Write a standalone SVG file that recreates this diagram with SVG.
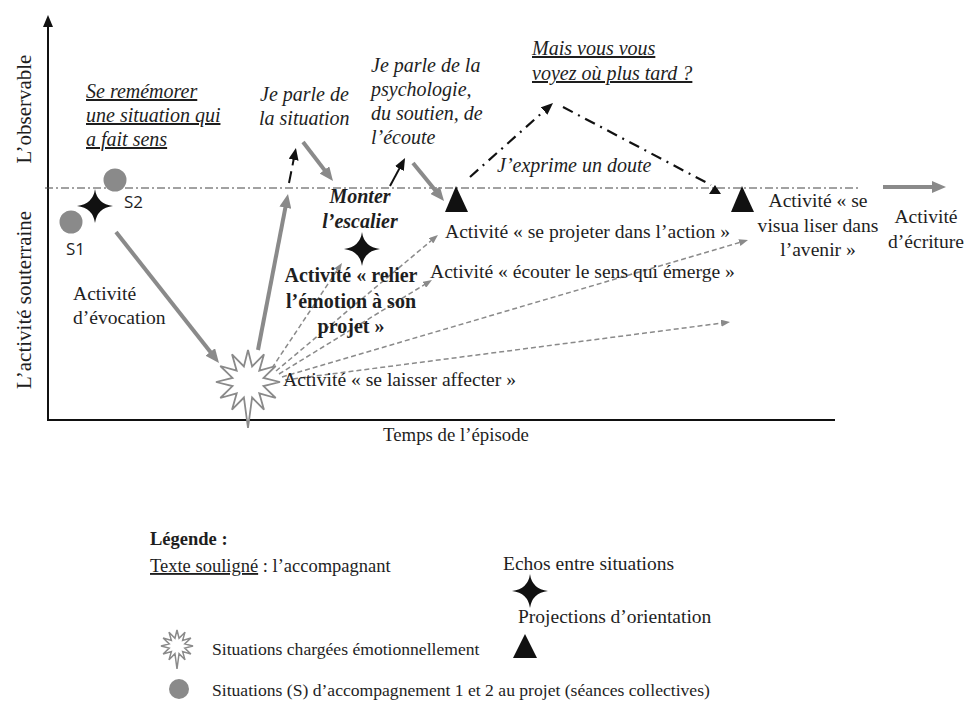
<svg xmlns="http://www.w3.org/2000/svg" width="965" height="705" viewBox="0 0 965 705">
<style>
text{font-family:"Liberation Serif","Times New Roman",serif;fill:#1e1e1e;font-size:19.6px}
.it{font-style:italic;font-size:20px}
.u{text-decoration:underline}
.b{font-weight:bold;font-size:20px}
.sans{font-family:"Open Sans","Liberation Sans",sans-serif;font-size:17px}
.ax{font-size:21px}
.lg{font-size:18.5px}
.lg2{font-size:19.5px}
.lg3{font-size:17.6px}
.g{stroke:#8a8a8a;stroke-width:4;fill:none}
.d{stroke:#8a8a8a;stroke-width:1.5;stroke-dasharray:5 3;fill:none}
.k{stroke:#111;stroke-width:2;fill:none}
.kdd{stroke:#111;stroke-width:2.2;stroke-dasharray:11 6 2 6;fill:none}
</style>
<defs>
<marker id="ga" markerUnits="userSpaceOnUse" markerWidth="14" markerHeight="12" refX="4" refY="6" orient="auto"><path d="M0,0 L14,6 L0,12 z" fill="#8a8a8a"/></marker>
<marker id="da" markerUnits="userSpaceOnUse" markerWidth="9" markerHeight="7" refX="2" refY="3.5" orient="auto"><path d="M0,0 L9,3.5 L0,7 z" fill="#8a8a8a"/></marker>
<marker id="ka" markerUnits="userSpaceOnUse" markerWidth="12" markerHeight="10" refX="3" refY="5" orient="auto"><path d="M0,0 L12,5 L0,10 z" fill="#111"/></marker>
<path id="burst" d="M0,-32 L4.1,-15.5 L16,-27.7 L11.3,-11.3 L27.7,-16 L15.5,-4.1 L32,0 L15.5,4.1 L27.7,16 L11.3,11.3 L16,27.7 L4.1,15.5 L0,46 L-4.1,15.5 L-16,27.7 L-11.3,11.3 L-27.7,16 L-15.5,4.1 L-32,0 L-15.5,-4.1 L-27.7,-16 L-11.3,-11.3 L-16,-27.7 L-4.1,-15.5 Z"/>
<path id="star" d="M0,-17 Q2,-2 18,0 Q2,2 0,17 Q-2,2 -18,0 Q-2,-2 0,-17 Z"/>
</defs>
<rect width="965" height="705" fill="#fff"/>

<g id="axes">
<line x1="48" y1="420" x2="48" y2="24" class="k" marker-end="url(#ka)"/>
<line x1="47" y1="420" x2="835" y2="420" class="k"/>
<line x1="45" y1="188" x2="860" y2="188" stroke="#444" stroke-width="1" stroke-dasharray="8 3 2 3"/>
<text class="ax" transform="translate(31,109) rotate(-90)" text-anchor="middle">L’observable</text>
<text class="ax" transform="translate(31,300) rotate(-90)" text-anchor="middle">L’activité souterraine</text>
<text x="456" y="441" text-anchor="middle" style="font-size:18.8px">Temps de l’épisode</text>
</g>

<g id="connectors">
<line x1="116" y1="232" x2="212.8" y2="355.1" class="g" marker-end="url(#ga)"/>
<line x1="258" y1="350" x2="286.1" y2="203.8" class="g" marker-end="url(#ga)"/>
<line x1="303" y1="142" x2="326.9" y2="173.1" class="g" marker-end="url(#ga)"/>
<line x1="413" y1="163" x2="437.7" y2="193.2" class="g" marker-end="url(#ga)"/>
<line x1="883" y1="187" x2="936" y2="187" class="g" marker-end="url(#ga)"/>
<line x1="272" y1="368" x2="338.1" y2="268.8" class="d" marker-end="url(#da)"/>
<line x1="276" y1="371" x2="432.6" y2="239.5" class="d" marker-end="url(#da)"/>
<line x1="279" y1="374" x2="426" y2="283.7" class="d" marker-end="url(#da)"/>
<line x1="282" y1="377" x2="741.3" y2="242" class="d" marker-end="url(#da)"/>
<line x1="285" y1="380" x2="723.1" y2="322.9" class="d" marker-end="url(#da)"/>
<line x1="289" y1="183" x2="294.2" y2="156.8" stroke="#111" stroke-width="2" stroke-dasharray="12 6" marker-end="url(#ka)"/>
<line x1="390" y1="186" x2="400.8" y2="165.9" class="k" marker-end="url(#ka)"/>
<line x1="470" y1="177" x2="546.3" y2="109" class="kdd" marker-end="url(#ka)"/>
<line x1="563" y1="107" x2="711" y2="185" class="kdd"/>
</g>

<g id="s1"><circle cx="71" cy="222" r="11.5" fill="#8a8a8a"/><text class="sans" x="66" y="255">S1</text></g>
<g id="s2"><circle cx="115" cy="180" r="11.5" fill="#8a8a8a"/><text class="sans" x="124" y="208">S2</text></g>
<g id="echo1"><use href="#star" transform="translate(95,206)" fill="#111"/></g>
<g id="echo2"><use href="#star" transform="translate(362,249)" fill="#111"/></g>
<g id="burst-main"><use href="#burst" transform="translate(248,382)" fill="#fff" stroke="#8a8a8a" stroke-width="1.8"/></g>
<g id="proj1"><polygon points="456,186 445,212 468,212" fill="#111"/></g>
<g id="proj2"><polygon points="742,186 731,212 754,212" fill="#111"/></g>
<g id="proj-small"><polygon points="715,185 709,194 721,194" fill="#111"/></g>

<g id="labels">
<text class="it u" x="86" y="98">Se remémorer</text>
<text class="it u" x="86" y="122">une situation qui</text>
<text class="it u" x="86" y="146">a fait sens</text>
<text x="73" y="300">Activité</text>
<text x="73" y="324">d’évocation</text>
<text class="it" x="260" y="101">Je parle de</text>
<text class="it" x="259" y="125">la situation</text>
<text class="it" x="371" y="72">Je parle de la</text>
<text class="it" x="371" y="96">psychologie,</text>
<text class="it" x="371" y="120">du soutien, de</text>
<text class="it" x="371" y="144">l’écoute</text>
<text class="it u" x="532" y="55">Mais vous vous</text>
<text class="it u" x="532" y="80">voyez où plus tard ?</text>
<text class="it" x="497" y="172">J’exprime un doute</text>
<text class="it b" x="360" y="203" text-anchor="middle">Monter</text>
<text class="it b" x="360" y="228" text-anchor="middle">l’escalier</text>
<text class="b" x="351" y="282" text-anchor="middle">Activité « relier</text>
<text class="b" x="351" y="308" text-anchor="middle">l’émotion à son</text>
<text class="b" x="351" y="333" text-anchor="middle">projet »</text>
<text x="445" y="238">Activité « se projeter dans l’action »</text>
<text x="430" y="278">Activité « écouter le sens qui émerge »</text>
<text x="283" y="386">Activité « se laisser affecter »</text>
<text x="818" y="207" text-anchor="middle">Activité « se</text>
<text x="818" y="232" text-anchor="middle">visua liser dans</text>
<text x="818" y="256" text-anchor="middle">l’avenir »</text>
<text x="926" y="223" text-anchor="middle">Activité</text>
<text x="926" y="248" text-anchor="middle">d’écriture</text>
</g>

<g id="legend">
<text class="lg b" x="150" y="545">Légende :</text>
<text class="lg" x="150" y="572"><tspan class="u">Texte souligné</tspan> : l’accompagnant</text>
<text class="lg2" x="503" y="570">Echos entre situations</text>
<use href="#star" transform="translate(530,591)" fill="#111"/>
<text class="lg2" x="518" y="623">Projections d’orientation</text>
<polygon points="525,634 513,658 537,658" fill="#111"/>
<use href="#burst" transform="translate(177,646) scale(0.5)" fill="#fff" stroke="#8a8a8a" stroke-width="3"/>
<text class="lg3" x="212" y="655">Situations chargées émotionnellement</text>
<circle cx="179" cy="689" r="10" fill="#8a8a8a"/>
<text class="lg3" x="212" y="696">Situations (S) d’accompagnement 1 et 2 au projet (séances collectives)</text>
</g>
</svg>
